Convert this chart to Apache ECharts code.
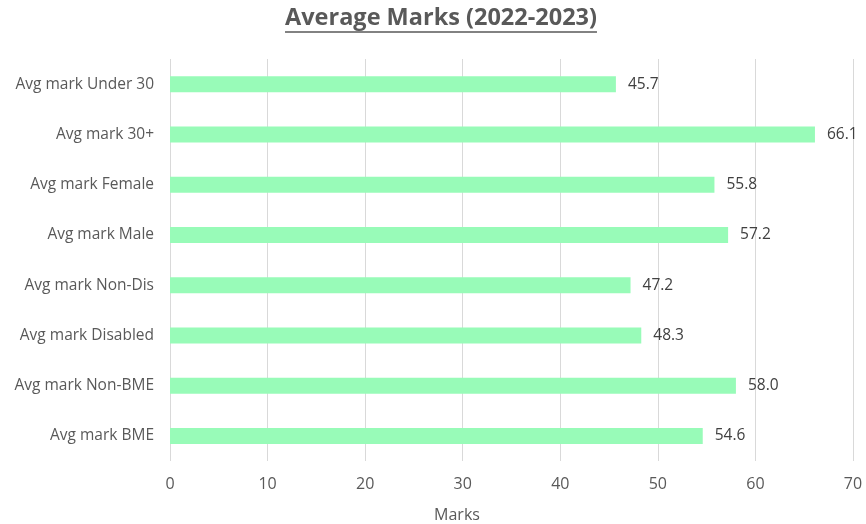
<!DOCTYPE html>
<html>
<head>
<meta charset="utf-8">
<script src="https://cdn.jsdelivr.net/npm/echarts@6/dist/echarts.min.js"></script>
<style>
  html, body { margin: 0; padding: 0; background: #fff; }
  #chart { width: 866px; height: 524px; }
</style>
</head>
<body>
<div id="chart"></div>
<script>
// Groups, listed top to bottom as they appear on the chart
const categories = [
  'Avg mark Under 30',
  'Avg mark 30+',
  'Avg mark Female',
  'Avg mark Male',
  'Avg mark Non-Dis',
  'Avg mark Disabled',
  'Avg mark Non-BME',
  'Avg mark BME'
];
const marks = [45.7, 66.1, 55.8, 57.2, 47.2, 48.3, 58.0, 54.6];
const titleText = 'Average Marks (2022-2023)';
const axisTitle = 'Marks';

const FONT = '"Open Sans", "Noto Sans", sans-serif';
const GREY = '#595959';
const TITLE_SIZE = 23.5;
const TITLE_CX = 441;

// Measure the title so the underline spans exactly the text
const ctx = document.createElement('canvas').getContext('2d');
ctx.font = 'bold ' + TITLE_SIZE + 'px ' + FONT;
const titleW = ctx.measureText(titleText).width;

const chart = echarts.init(document.getElementById('chart'), null, { renderer: 'canvas' });

chart.setOption({
  animation: false,
  backgroundColor: '#ffffff',
  grid: { left: 170, right: 13, top: 59, bottom: 63, containLabel: false },
  xAxis: {
    type: 'value',
    min: 0,
    max: 70,
    interval: 10,
    axisLine: { show: false },
    axisTick: { show: false },
    splitLine: { show: true, lineStyle: { color: '#d9d9d9', width: 1 } },
    axisLabel: { fontFamily: FONT, fontSize: 16, color: GREY, margin: 15 }
  },
  yAxis: {
    type: 'category',
    inverse: true,
    data: categories,
    axisLine: { show: false },
    axisTick: { show: false },
    axisLabel: { fontFamily: FONT, fontSize: 15.5, color: GREY, margin: 16 }
  },
  series: [{
    type: 'bar',
    data: marks,
    barWidth: 16,
    itemStyle: { color: '#98FBB8' },
    label: {
      show: true,
      position: 'right',
      distance: 12,
      fontFamily: FONT,
      fontSize: 15.5,
      color: '#404040',
      formatter: p => p.value.toFixed(1)
    }
  }],
  graphic: [
    {
      type: 'text',
      x: TITLE_CX,
      y: 18,
      style: {
        text: titleText,
        fontFamily: FONT,
        fontSize: TITLE_SIZE,
        fontWeight: 'bold',
        fill: GREY,
        align: 'center',
        verticalAlign: 'middle'
      }
    },
    {
      type: 'line',
      shape: { x1: TITLE_CX - titleW / 2, y1: 32, x2: TITLE_CX + titleW / 2, y2: 32 },
      style: { stroke: GREY, lineWidth: 1.5 }
    },
    {
      type: 'text',
      x: 457,
      y: 515,
      style: {
        text: axisTitle,
        fontFamily: FONT,
        fontSize: 16,
        fill: GREY,
        align: 'center',
        verticalAlign: 'middle'
      }
    }
  ]
});
</script>
</body>
</html>
